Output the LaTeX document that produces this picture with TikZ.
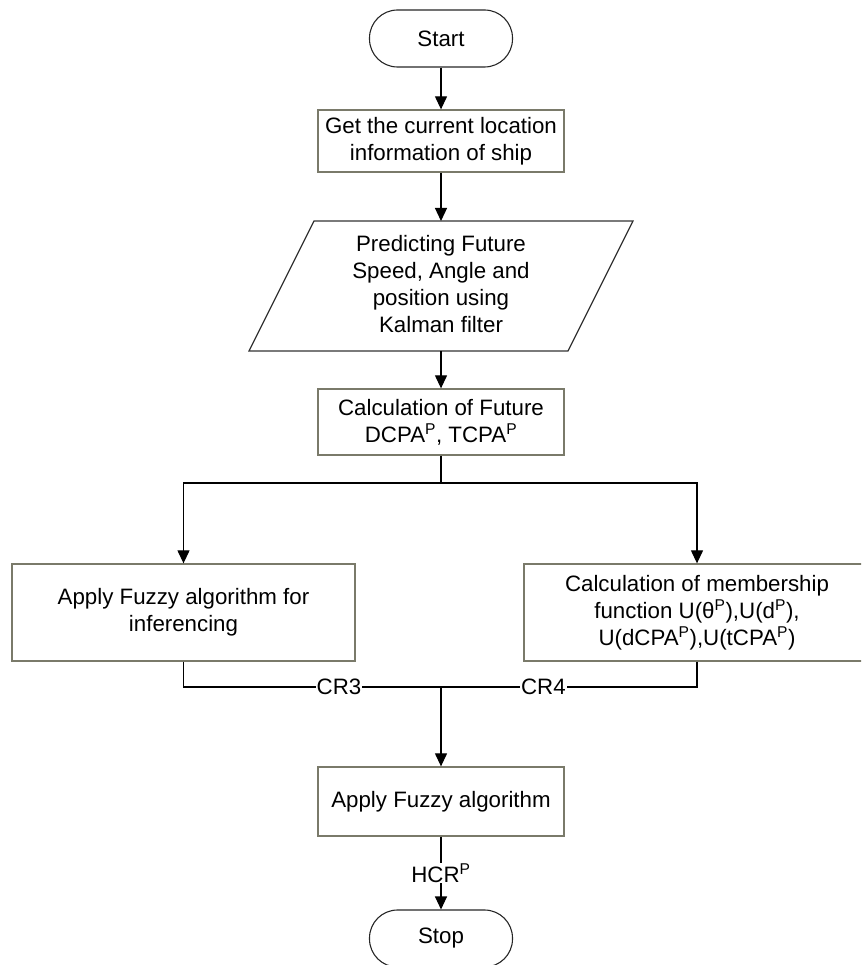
\documentclass[tikz,border=0pt]{standalone}
\usepackage{fontspec}
\setmainfont{Liberation Sans}
\usetikzlibrary{arrows.meta}
\definecolor{boxgray}{RGB}{122,122,106}
\begin{document}
\begin{tikzpicture}[x=1pt,y=-1pt,
  font=\fontsize{22.3}{26.8}\selectfont,
  box/.style={draw=boxgray,line width=1.3pt,align=center,inner sep=0pt},
  term/.style={draw=black!85,line width=1.1pt,rounded corners=28pt,inner sep=0pt,minimum width=143pt,minimum height=57pt},
  conn/.style={draw=black,line width=1.2pt},
  arr/.style={conn,-{Triangle[length=13pt,width=12pt]}},
  lbl/.style={fill=white,inner sep=1pt}]
\useasboundingbox (0,0) rectangle (861,965);
\clip (0,0) rectangle (861,965);

\node[term] (start) at (441,38.5) {Start};
\node[box,minimum width=246pt,minimum height=62pt] (b1) at (441,141) {Get the current location\\information of ship};

\coordinate (pa) at (314,221);
\coordinate (pb) at (633,221);
\coordinate (pc) at (568,351);
\coordinate (pd) at (249,351);
\coordinate (ptop) at (441,221);
\coordinate (pbot) at (441,351);
\draw[draw=black!80,line width=1.2pt] (pa) -- (pb) -- (pc) -- (pd) -- cycle;
\node[align=center,inner sep=0pt] (pl) at (441,284) {Predicting Future\\Speed, Angle and\\position using\\Kalman filter};

\node[box,minimum width=246pt,minimum height=66pt] (b2) at (441,422) {Calculation of Future\\DCPA\textsuperscript{P}, TCPA\textsuperscript{P}};

\node[box,minimum width=343pt,minimum height=97pt] (lb) at (183.5,612.5) {Apply Fuzzy algorithm for\\inferencing};
\node[box,minimum width=346pt,minimum height=97pt] (rb) at (697,612.5) {Calculation of membership\\function U(θ\textsuperscript{P}),U(d\textsuperscript{P}),\\U(dCPA\textsuperscript{P}),U(tCPA\textsuperscript{P})};

\node[box,minimum width=246pt,minimum height=69pt] (b3) at (441,801.5) {Apply Fuzzy algorithm};
\node[term] (stop) at (441,938.5) {Stop};

\coordinate (br) at (441,483);
\coordinate (brl) at (183.5,483);
\coordinate (brr) at (697,483);
\coordinate (m) at (441,687);
\coordinate (ml) at (183.5,687);
\coordinate (mr) at (697,687);

\draw[arr] (start) -- (b1);
\draw[arr] (b1) -- (ptop);
\draw[arr] (pbot) -- (b2);
\draw[conn] (b2) -- (br);
\draw[arr] (br) -- (brl) -- (lb);
\draw[arr] (br) -- (brr) -- (rb);
\draw[conn] (lb) -- (ml) -- node[lbl,pos=0.604] {CR3} (m);
\draw[conn] (rb) -- (mr) -- node[lbl,pos=0.60] {CR4} (m);
\draw[arr] (m) -- (b3);
\draw[arr] (b3) -- node[lbl] {HCR\textsuperscript{P}} (stop);
\end{tikzpicture}
\end{document}
